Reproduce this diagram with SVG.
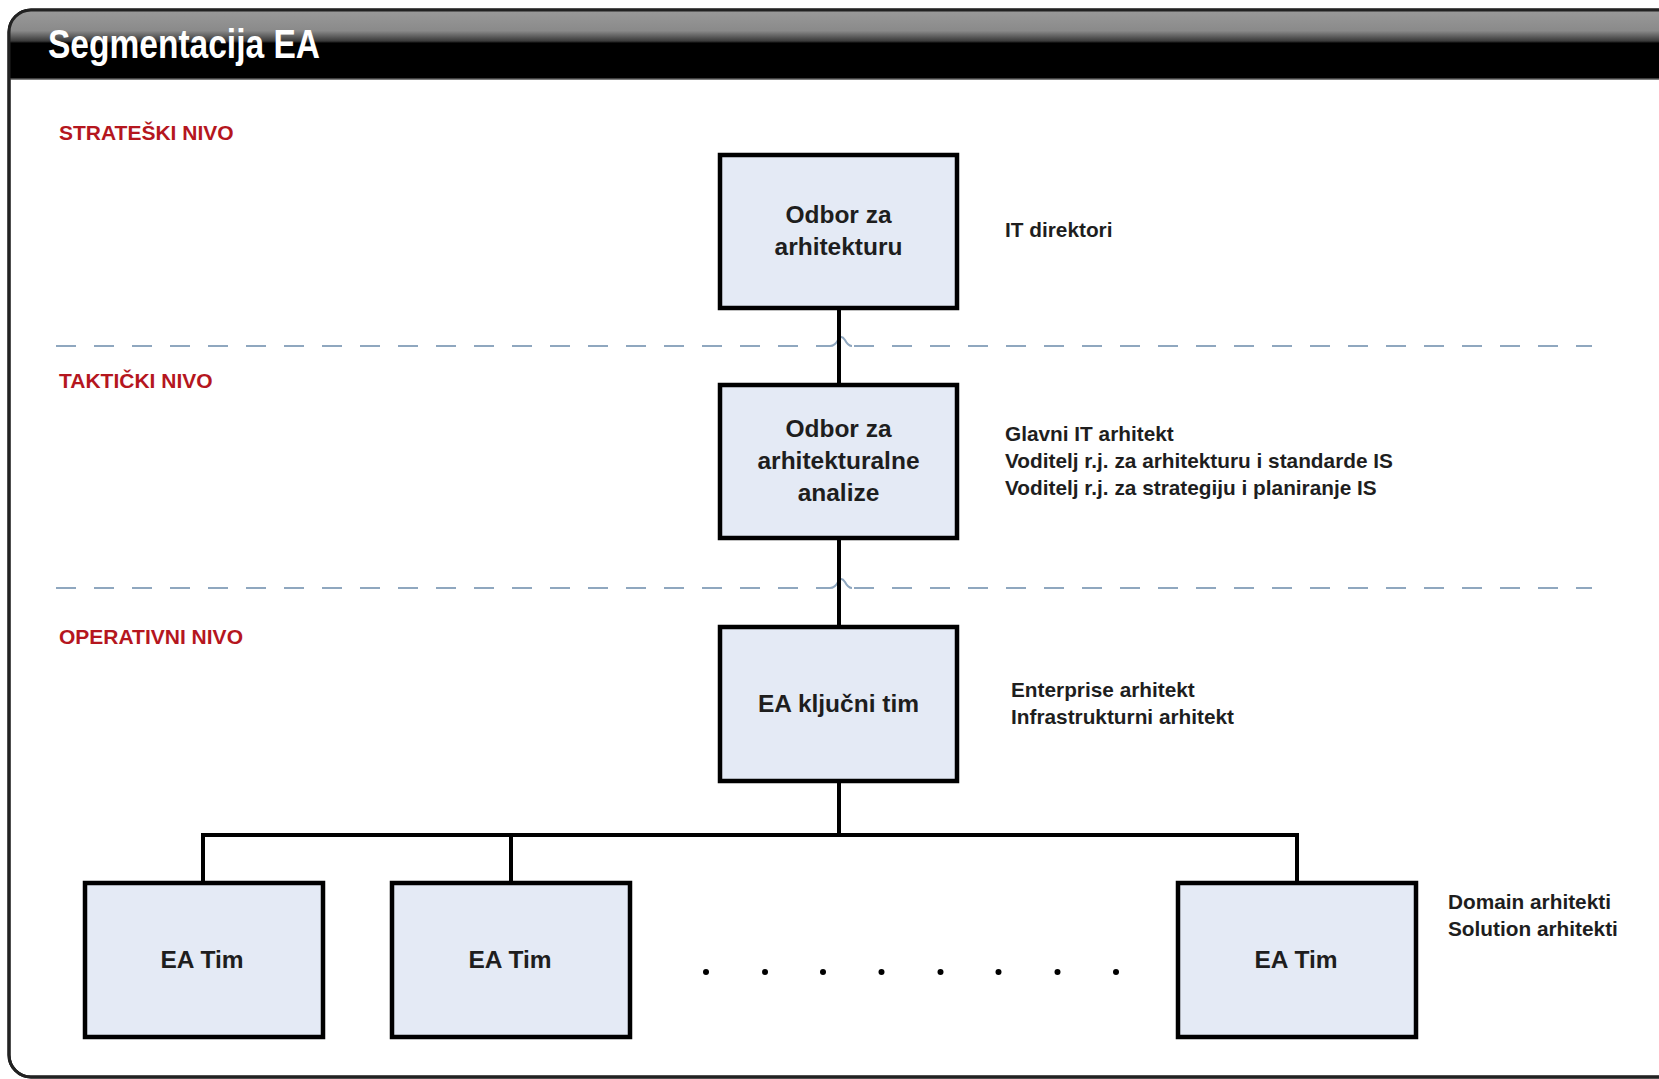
<svg xmlns="http://www.w3.org/2000/svg" width="1659" height="1079" viewBox="0 0 1659 1079">
<defs>
<linearGradient id="hdr" x1="0" y1="0" x2="0" y2="1">
<stop offset="0" stop-color="#9a9a9a"/>
<stop offset="0.3" stop-color="#8a8a8a"/>
<stop offset="0.45" stop-color="#3a3a3a"/>
<stop offset="0.48" stop-color="#000"/>
<stop offset="1" stop-color="#000"/>
</linearGradient>
<clipPath id="frameClip"><rect x="9" y="10" width="1680" height="1067" rx="22" ry="22"/></clipPath>
</defs>
<style>
.box{fill:#e4eaf5;stroke:#000;stroke-width:4.5}
.lbl{font-family:"Liberation Sans",Arial,sans-serif;font-weight:bold;font-size:24.5px;fill:#1e1e1e;text-anchor:middle}
.lvl{font-family:"Liberation Sans",Arial,sans-serif;font-weight:bold;font-size:21px;fill:#b5161e}
.note{font-family:"Liberation Sans",Arial,sans-serif;font-weight:bold;font-size:20.8px;fill:#1e1e1e}
.conn{fill:none;stroke:#000;stroke-width:4}
.dash{fill:none;stroke:#8fa7bf;stroke-width:2;stroke-dasharray:20 18}
.hop{fill:none;stroke:#8fa7bf;stroke-width:2}
</style>
<rect width="1659" height="1079" fill="#fff"/>
<g id="frame">
<rect x="9" y="10" width="1680" height="1067" rx="22" ry="22" fill="#fff" stroke="#000" stroke-width="3"/>
<rect x="9" y="10" width="1680" height="69" fill="url(#hdr)" clip-path="url(#frameClip)"/>
<line x1="9" y1="79" x2="1659" y2="79" stroke="#555" stroke-width="1.5"/>
<rect x="9" y="10" width="1680" height="1067" rx="22" ry="22" fill="none" stroke="#222" stroke-width="3"/>
<text x="48" y="58" font-family="'Liberation Sans',Arial,sans-serif" font-weight="bold" font-size="41" fill="#fff" textLength="272" lengthAdjust="spacingAndGlyphs">Segmentacija EA</text>
</g>
<g id="levels">
<text class="lvl" x="59" y="140">STRATEŠKI NIVO</text>
<text class="lvl" x="59" y="388">TAKTIČKI NIVO</text>
<text class="lvl" x="59" y="644">OPERATIVNI NIVO</text>
<path class="dash" d="M56,346 H830"/>
<path class="hop" d="M830,346 Q835,346 838,340 Q841,334 845,340 Q848,346 852,346"/>
<path class="dash" d="M854,346 H1592"/>
<path class="dash" d="M56,588 H830"/>
<path class="hop" d="M830,588 Q835,588 838,582 Q841,576 845,582 Q848,588 852,588"/>
<path class="dash" d="M854,588 H1592"/>
</g>
<g id="connectors">
<line class="conn" x1="839" y1="308" x2="839" y2="385"/>
<line class="conn" x1="839" y1="538" x2="839" y2="627"/>
<line class="conn" x1="839" y1="781" x2="839" y2="835"/>
<polyline class="conn" points="203,883 203,835 1297,835 1297,883"/>
<line class="conn" x1="511" y1="835" x2="511" y2="883"/>
</g>
<g id="n1">
<rect class="box" x="720" y="155" width="237" height="153"/>
<text class="lbl" x="838.5" y="223">Odbor za</text>
<text class="lbl" x="838.5" y="255">arhitekturu</text>
</g>
<g id="n2">
<rect class="box" x="720" y="385" width="237" height="153"/>
<text class="lbl" x="838.5" y="437">Odbor za</text>
<text class="lbl" x="838.5" y="469">arhitekturalne</text>
<text class="lbl" x="838.5" y="501">analize</text>
</g>
<g id="n3">
<rect class="box" x="720" y="627" width="237" height="154"/>
<text class="lbl" x="838.5" y="712">EA ključni tim</text>
</g>
<g id="t1">
<rect class="box" x="85" y="883" width="238" height="154"/>
<text class="lbl" x="202" y="968">EA Tim</text>
</g>
<g id="t2">
<rect class="box" x="392" y="883" width="238" height="154"/>
<text class="lbl" x="510" y="968">EA Tim</text>
</g>
<g id="t3">
<rect class="box" x="1178" y="883" width="238" height="154"/>
<text class="lbl" x="1296" y="968">EA Tim</text>
</g>
<g id="dots" fill="#000">
<circle cx="706" cy="972" r="3"/>
<circle cx="765" cy="972" r="3"/>
<circle cx="823" cy="972" r="3"/>
<circle cx="881.5" cy="972" r="3"/>
<circle cx="940.5" cy="972" r="3"/>
<circle cx="998.5" cy="972" r="3"/>
<circle cx="1057.5" cy="972" r="3"/>
<circle cx="1116" cy="972" r="3"/>
</g>
<g id="notes">
<text class="note" x="1005" y="237">IT direktori</text>
<text class="note" x="1005" y="441">Glavni IT arhitekt</text>
<text class="note" x="1005" y="468">Voditelj r.j. za arhitekturu i standarde IS</text>
<text class="note" x="1005" y="495">Voditelj r.j. za strategiju i planiranje IS</text>
<text class="note" x="1011" y="697">Enterprise arhitekt</text>
<text class="note" x="1011" y="724">Infrastrukturni arhitekt</text>
<text class="note" x="1448" y="909">Domain arhitekti</text>
<text class="note" x="1448" y="936">Solution arhitekti</text>
</g>
</svg>
